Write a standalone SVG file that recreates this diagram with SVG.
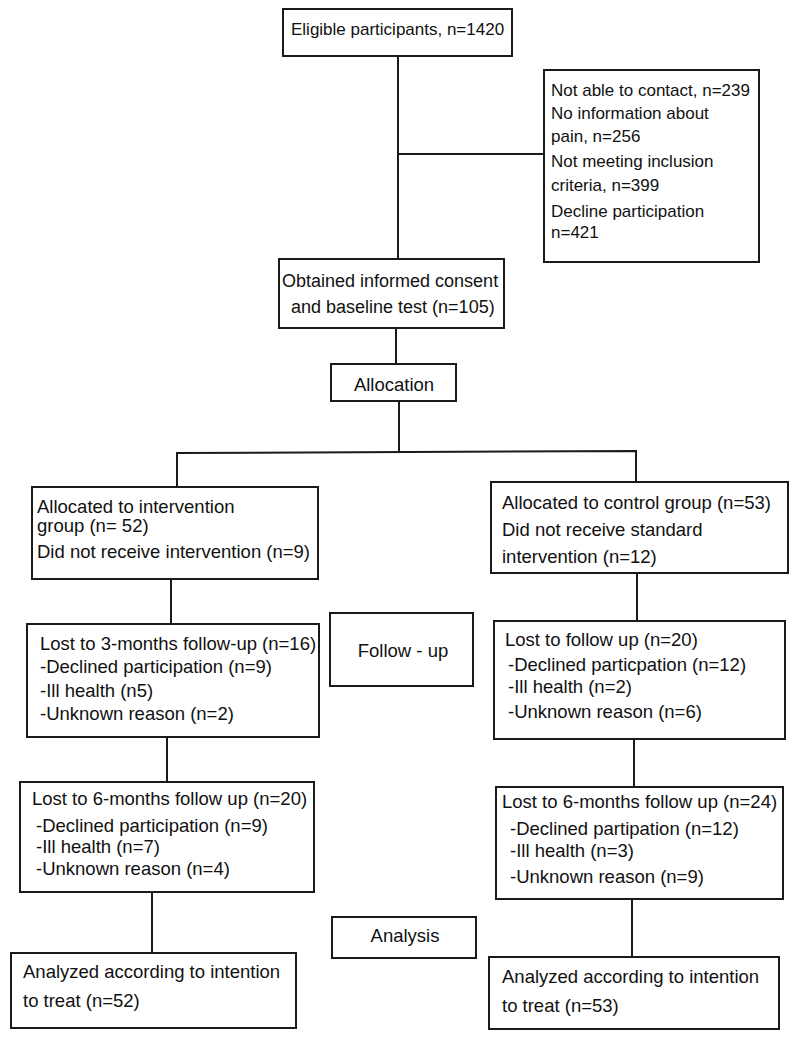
<svg xmlns="http://www.w3.org/2000/svg" width="804" height="1043" viewBox="0 0 804 1043">
<style>
.box{fill:#fff;stroke:#1a1a1a;stroke-width:2}
.t{font-family:"Liberation Sans",Arial,sans-serif;font-size:18.5px;fill:#111}
.s{font-size:17px}
.m{font-size:18px}
.c{text-anchor:middle}
.ln{stroke:#1a1a1a;stroke-width:2;fill:none}
</style>
<rect width="804" height="1043" fill="#fff"/>
<g id="connectors">
<line class="ln" x1="398" y1="56" x2="398" y2="259"/>
<line class="ln" x1="398" y1="154" x2="544" y2="154"/>
<line class="ln" x1="396" y1="328" x2="396" y2="364"/>
<line class="ln" x1="399" y1="401" x2="399" y2="452"/>
<polyline class="ln" points="177,487 177,453 636,451 636,482"/>
<line class="ln" x1="171" y1="579" x2="171" y2="624"/>
<line class="ln" x1="637" y1="573" x2="637" y2="621"/>
<line class="ln" x1="167" y1="737" x2="167" y2="782"/>
<line class="ln" x1="634" y1="739" x2="634" y2="787"/>
<line class="ln" x1="152" y1="892" x2="152" y2="953"/>
<line class="ln" x1="632" y1="899" x2="632" y2="957"/>
</g>
<g id="eligible">
<rect class="box" x="283" y="9" width="229" height="47"/>
<text class="t s" x="291" y="35">Eligible participants, n=1420</text>
</g>
<g id="excluded">
<rect class="box" x="544" y="70" width="215" height="192"/>
<text class="t s" x="551" y="96">Not able to contact, n=239</text>
<text class="t s" x="551" y="119">No information about</text>
<text class="t s" x="551" y="142">pain, n=256</text>
<text class="t s" x="551" y="167">Not meeting inclusion</text>
<text class="t s" x="551" y="191">criteria, n=399</text>
<text class="t s" x="551" y="217">Decline participation</text>
<text class="t s" x="551" y="238">n=421</text>
</g>
<g id="consent">
<rect class="box" x="279" y="259" width="225" height="69"/>
<text class="t m" x="282" y="287">Obtained informed consent</text>
<text class="t m" x="291" y="313">and baseline test (n=105)</text>
</g>
<g id="allocation">
<rect class="box" x="331" y="364" width="125" height="37"/>
<text class="t c" x="394" y="391">Allocation</text>
</g>
<g id="alloc-intervention">
<rect class="box" x="32" y="487" width="286" height="92"/>
<text class="t" x="37" y="513">Allocated to intervention</text>
<text class="t" x="37" y="532">group (n= 52)</text>
<text class="t" x="37" y="558">Did not receive intervention (n=9)</text>
</g>
<g id="alloc-control">
<rect class="box" x="491" y="482" width="297" height="91"/>
<text class="t" x="502" y="509">Allocated to control group (n=53)</text>
<text class="t" x="502" y="536">Did not receive standard</text>
<text class="t" x="502" y="563">intervention (n=12)</text>
</g>
<g id="lost3-intervention">
<rect class="box" x="27" y="624" width="292" height="113"/>
<text class="t" x="40" y="650">Lost to 3-months follow-up (n=16)</text>
<text class="t" x="40" y="673">-Declined participation (n=9)</text>
<text class="t" x="40" y="697">-Ill health (n5)</text>
<text class="t" x="40" y="720">-Unknown reason (n=2)</text>
</g>
<g id="followup">
<rect class="box" x="330" y="613" width="143" height="73"/>
<text class="t c" x="403" y="657">Follow - up</text>
</g>
<g id="lost-control">
<rect class="box" x="494" y="621" width="291" height="118"/>
<text class="t" x="505" y="646">Lost to follow up (n=20)</text>
<text class="t" x="508" y="671">-Declined particpation (n=12)</text>
<text class="t" x="508" y="693">-Ill health (n=2)</text>
<text class="t" x="508" y="718">-Unknown reason (n=6)</text>
</g>
<g id="lost6-intervention">
<rect class="box" x="20" y="782" width="294" height="110"/>
<text class="t" x="32" y="805">Lost to 6-months follow up (n=20)</text>
<text class="t" x="36" y="832">-Declined participation (n=9)</text>
<text class="t" x="36" y="853">-Ill health (n=7)</text>
<text class="t" x="36" y="875">-Unknown reason (n=4)</text>
</g>
<g id="lost6-control">
<rect class="box" x="496" y="787" width="287" height="112"/>
<text class="t" x="502" y="808">Lost to 6-months follow up (n=24)</text>
<text class="t" x="510" y="835">-Declined partipation (n=12)</text>
<text class="t" x="510" y="857">-Ill health (n=3)</text>
<text class="t" x="510" y="883">-Unknown reason (n=9)</text>
</g>
<g id="analysis">
<rect class="box" x="332" y="917" width="144" height="41"/>
<text class="t c" x="405" y="942">Analysis</text>
</g>
<g id="analyzed-intervention">
<rect class="box" x="11" y="953" width="285" height="75"/>
<text class="t" x="23" y="978">Analyzed according to intention</text>
<text class="t" x="23" y="1007">to treat (n=52)</text>
</g>
<g id="analyzed-control">
<rect class="box" x="489" y="957" width="290" height="72"/>
<text class="t" x="502" y="983">Analyzed according to intention</text>
<text class="t" x="502" y="1012">to treat (n=53)</text>
</g>
</svg>
